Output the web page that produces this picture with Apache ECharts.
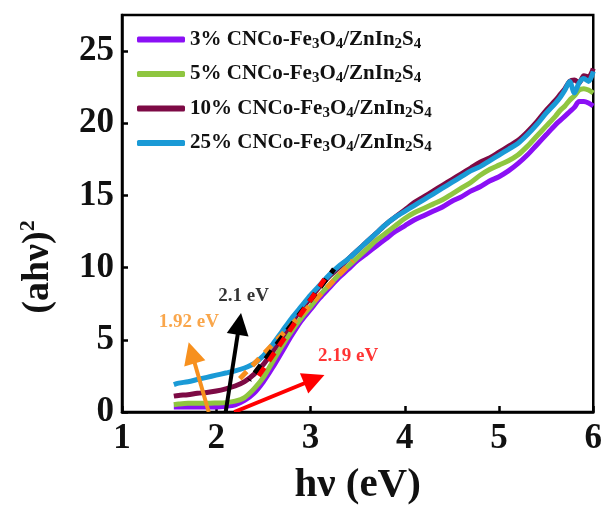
<!DOCTYPE html>
<html>
<head>
<meta charset="utf-8">
<script src="https://cdn.jsdelivr.net/npm/echarts@6/dist/echarts.min.js"></script>
<style>
  html, body { margin: 0; padding: 0; background: #fff; }
  #chart { width: 605px; height: 511px; }
</style>
</head>
<body>
<div id="chart"></div>
<script>
// Photon energy (eV) shared by all Tauc curves
const energy = [1.55, 1.6, 1.7, 1.8, 1.9, 2.0, 2.1, 2.2, 2.3, 2.4,
  2.5, 2.6, 2.7, 2.8, 2.9, 3.0, 3.1, 3.2, 3.3, 3.4,
  3.5, 3.6, 3.7, 3.8, 3.9, 4.0, 4.1, 4.2, 4.3, 4.4,
  4.5, 4.6, 4.7, 4.8, 4.9, 5.0, 5.1, 5.2, 5.3, 5.4,
  5.5, 5.6, 5.65, 5.7, 5.75, 5.8, 5.85, 5.9, 5.95, 6.0];

// (ahν)^2 for each loading
const tauc3 = [0.35, 0.35, 0.35, 0.35, 0.35, 0.35, 0.4, 0.5, 0.8, 1.3,
  2.1, 3.1, 4.2, 5.3, 6.3, 7.1, 7.9, 8.6, 9.3, 9.9,
  10.5, 11.0, 11.5, 12.0, 12.5, 12.9, 13.3, 13.6, 13.9, 14.2,
  14.6, 14.9, 15.3, 15.6, 16.0, 16.3, 16.7, 17.2, 17.8, 18.5,
  19.2, 19.9, 20.2, 20.5, 20.8, 21.1, 21.5, 21.5, 21.4, 21.2];
const tauc5 = [0.5, 0.55, 0.6, 0.6, 0.6, 0.62, 0.65, 0.75, 1.0, 1.6,
  2.4, 3.5, 4.6, 5.6, 6.5, 7.3, 8.1, 8.8, 9.5, 10.1,
  10.7, 11.3, 11.9, 12.4, 12.9, 13.4, 13.8, 14.1, 14.4, 14.7,
  15.1, 15.5, 15.9, 16.4, 16.8, 17.1, 17.4, 17.8, 18.4, 19.1,
  19.8, 20.5, 20.9, 21.2, 21.6, 21.9, 22.3, 22.4, 22.3, 22.1];
const tauc10 = [1.1, 1.15, 1.2, 1.3, 1.35, 1.45, 1.6, 1.8, 2.1, 2.6,
  3.3, 4.2, 5.2, 6.2, 7.1, 7.9, 8.7, 9.4, 10.0, 10.6,
  11.2, 11.8, 12.4, 13.0, 13.5, 14.0, 14.5, 14.9, 15.3, 15.7,
  16.1, 16.5, 16.9, 17.3, 17.6, 18.0, 18.4, 18.8, 19.4, 20.1,
  20.9, 21.6, 22.0, 22.4, 22.9, 23.0, 22.8, 23.3, 23.2, 23.8];
const tauc25 = [1.9, 2.0, 2.1, 2.25, 2.4, 2.55, 2.7, 2.85, 3.05, 3.35,
  3.9, 4.7, 5.6, 6.5, 7.3, 8.1, 8.8, 9.5, 10.1, 10.6,
  11.2, 11.8, 12.4, 13.0, 13.5, 13.9, 14.3, 14.7, 15.1, 15.5,
  15.9, 16.3, 16.7, 17.0, 17.4, 17.8, 18.2, 18.6, 19.2, 19.9,
  20.7, 21.4, 21.8, 22.3, 22.9, 22.1, 22.8, 23.1, 22.9, 23.6];

const loadings = ['3%', '5%', '10%', '25%'];
const seriesColors = ['#8b10f5', '#8fc640', '#7d0a45', '#1a9ad6'];

// Band gaps (eV) read from the linear extrapolations
const bandGaps = [1.92, 2.1, 2.19];
const gapColors = ['#f7901e', '#000000', '#ff0000'];
// Tangent segments [[x0, y0], [x1, y1]] for each gap
const tangents = [
  [[2.25, 2.3], [3.45, 10.5]],
  [[2.35, 2.2], [3.25, 9.9]],
  [[2.45, 2.5], [3.15, 9.2]]
];
// Arrow head positions (start is the gap on the energy axis)
const arrowHeads = [[1.74, 4.1], [2.245, 6.1], [3.04, 2.27]];
// Label anchors for the gap annotations
const gapLabelPos = [[1.71, 6.25], [2.29, 8.05], [3.40, 3.84]];

// Axis ticks
const xTicks = [1, 2, 3, 4, 5, 6];
const yTicks = [0, 5, 10, 15, 20, 25];

const FONT = 'Liberation Serif';
const compound = '{t|CNCo-Fe}{s|3}{t|O}{s|4}{t|/ZnIn}{s|2}{t|S}{s|4}';
const names = loadings.map(p => p + ' CNCo-Fe3O4/ZnIn2S4');
const taucSets = [tauc3, tauc5, tauc10, tauc25];

const curveSeries = names.map((n, i) => ({
  name: n,
  type: 'line',
  data: energy.map((e, k) => [e, taucSets[i][k]]),
  showSymbol: false,
  smooth: 0.3,
  lineStyle: { color: seriesColors[i], width: 5 },
  itemStyle: { color: seriesColors[i] },
  z: 2 + i
}));

const tangentSeries = tangents.map((seg, i) => ({
  name: 'tangent' + i,
  type: 'line',
  data: seg,
  showSymbol: false,
  silent: true,
  lineStyle: { color: gapColors[i], width: 5, type: [10, 8], dashOffset: i * 9 },
  z: 10 + i
}));

const arrowSeries = {
  type: 'lines',
  coordinateSystem: 'cartesian2d',
  silent: true,
  symbol: ['none', 'triangle'],
  symbolSize: 22,
  z: 20,
  data: bandGaps.map((g, i) => ({
    coords: [[g, 0], arrowHeads[i]],
    lineStyle: { color: gapColors[i], width: 4, opacity: 1 }
  }))
};

const labelSeries = {
  type: 'scatter',
  silent: true,
  symbolSize: 0,
  z: 21,
  data: bandGaps.map((g, i) => ({
    value: gapLabelPos[i],
    label: {
      show: true,
      position: 'inside',
      formatter: g + ' eV',
      color: gapColors[i],
      fontFamily: FONT,
      fontWeight: 'bold',
      fontSize: 19
    }
  }))
};

const chart = echarts.init(document.getElementById('chart'), null, { renderer: 'canvas' });
chart.setOption({
  animation: false,
  backgroundColor: '#fff',
  grid: {
    left: 122, right: 11, top: 15, bottom: 99,
    show: true, borderColor: '#000', borderWidth: 2.5, backgroundColor: 'transparent'
  },
  legend: {
    orient: 'vertical',
    left: 137,
    top: 29,
    padding: 0,
    data: names,
    icon: 'roundRect',
    itemWidth: 48,
    itemHeight: 6,
    itemGap: 12,
    selectedMode: false,
    formatter: n => '{t|' + n.split(' ')[0] + ' }' + compound,
    textStyle: {
      fontFamily: FONT,
      fontWeight: 'bold',
      fontSize: 21,
      color: '#111',
      rich: {
        t: { fontFamily: FONT, fontWeight: 'bold', fontSize: 21, lineHeight: 24, color: '#111' },
        s: { fontFamily: FONT, fontWeight: 'bold', fontSize: 15, lineHeight: 14, verticalAlign: 'bottom', color: '#111' }
      }
    }
  },
  xAxis: {
    type: 'value',
    min: xTicks[0], max: xTicks[xTicks.length - 1], interval: 1,
    name: 'hν (eV)',
    nameLocation: 'middle',
    nameGap: 53,
    nameTextStyle: { fontFamily: FONT, fontWeight: 'bold', fontSize: 41, color: '#111' },
    axisLine: { lineStyle: { color: '#000', width: 2.5 } },
    axisTick: { inside: true, length: 6, lineStyle: { color: '#000', width: 2.5 } },
    axisLabel: { fontFamily: FONT, fontWeight: 'bold', fontSize: 35, color: '#111', margin: 9 },
    splitLine: { show: false }
  },
  yAxis: {
    type: 'value',
    min: yTicks[0], max: 27.5, interval: 5,
    axisLine: { lineStyle: { color: '#000', width: 2.5 } },
    axisTick: { inside: true, length: 6, lineStyle: { color: '#000', width: 2.5 } },
    axisLabel: { fontFamily: FONT, fontWeight: 'bold', fontSize: 35, color: '#111', margin: 8, showMaxLabel: false },
    splitLine: { show: false }
  },
  graphic: [{
    type: 'text',
    x: 38,
    y: 267,
    rotation: Math.PI / 2,
    style: {
      text: '{a|(ahν)}{p|2}',
      align: 'center',
      verticalAlign: 'middle',
      rich: {
        a: { fontFamily: FONT, fontWeight: 'bold', fontSize: 38, lineHeight: 42, fill: '#111' },
        p: { fontFamily: FONT, fontWeight: 'bold', fontSize: 22, lineHeight: 22, verticalAlign: 'top', fill: '#111' }
      }
    }
  }],
  series: curveSeries.concat(tangentSeries, [arrowSeries, labelSeries])
});
</script>
</body>
</html>
